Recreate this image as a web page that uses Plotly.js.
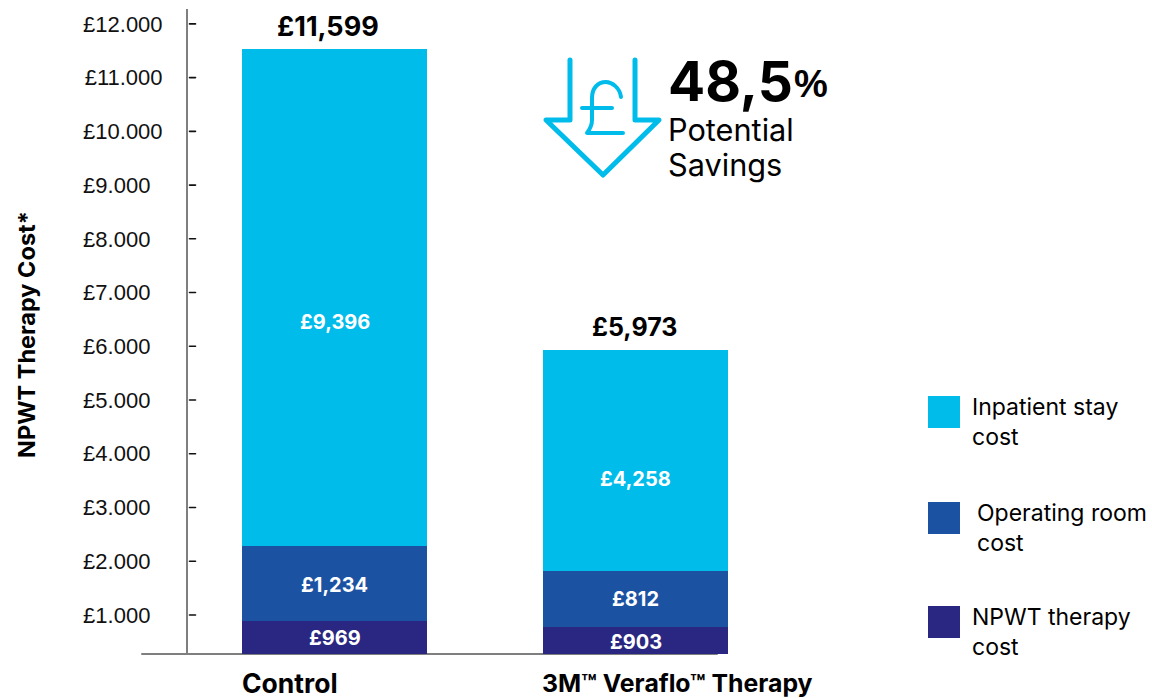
<!DOCTYPE html>
<html><head><meta charset="utf-8">
<script src="https://cdn.plot.ly/plotly-3.0.1.min.js"></script>
<style>
html,body{margin:0;padding:0;background:#fff}
.shapelayer path{stroke-linecap:round;stroke-linejoin:round}
</style></head><body><div id="chart" style="width:1152px;height:698px"></div>
<script>
// Data ------------------------------------------------------------------
const categories = ['Control', '3M\u2122 Veraflo\u2122 Therapy'];
const seriesNames = ['NPWT therapy<br>cost', 'Operating room<br>cost', 'Inpatient stay<br>cost'];
// Segment heights as drawn in the picture, read against its y axis.
// The source graphic is not strictly to scale, so these differ a little from its printed labels.
const npwtHeights = [887, 776];
const operatingHeights = [1396, 1042];
const inpatientHeights = [9250, 4113];
// Labels printed on the picture
const npwtLabels = ['£969', '£903'];
const operatingLabels = ['£1,234', '£812'];
const inpatientLabels = ['£9,396', '£4,258'];
const totalLabels = ['£11,599', '£5,973'];
const yTickVals = [1000,2000,3000,4000,5000,6000,7000,8000,9000,10000,11000,12000];
const yTickText = ['£1.000','£2.000','£3.000','£4.000','£5.000','£6.000','£7.000','£8.000','£9.000','£10.000','£11.000','£12.000'];
// Style ------------------------------------------------------------------
const W = 1152, H = 698;
const colors = ['#2A2782', '#1B52A2', '#00BCEB'];
const HEAD = 'Inter, "Noto Sans", sans-serif';
const TICK = '"Liberation Sans", Arial, sans-serif';
const px = x => x / W, py = y => 1 - y / H;
const yRange = [273.6, 12277];
const xRange = [(142 - 334.5) / 301, (728 - 334.5) / 301];

const xs = [0, 1];
function barTrace(name, vals, color) {
  return {type: 'bar', name, x: xs, y: vals, marker: {color, line: {width: 0}}, hoverinfo: 'skip'};
}
const traces = [
  barTrace('NPWT therapy cost', npwtHeights, colors[0]),
  barTrace('Operating room cost', operatingHeights, colors[1]),
  barTrace('Inpatient stay cost', inpatientHeights, colors[2])
];

const annotations = [];
function note(text, x, y, xref, yref, size, opts) {
  annotations.push(Object.assign({text, x, y, xref, yref, showarrow: false,
    font: {family: HEAD, size, color: '#000'}, xanchor: 'center', yanchor: 'middle', borderpad: 0}, opts || {}));
}
const inpatientShift = [-24, -18], operatingShift = [-1, 0], npwtShift = [0, -1];
const totalSize = [27, 25], totalDx = [-7, -1.5], totalShift = [5, 7];
xs.forEach((x, i) => {
  const t1 = npwtHeights[i], t2 = t1 + operatingHeights[i], t3 = t2 + inpatientHeights[i];
  const white = {font: {family: HEAD, size: 20, color: '#fff'}};
  note('<b>' + npwtLabels[i] + '</b>', x, (yRange[0] + t1) / 2, 'x', 'y', 20, Object.assign({yshift: npwtShift[i]}, white));
  note('<b>' + operatingLabels[i] + '</b>', x, (t1 + t2) / 2, 'x', 'y', 20, Object.assign({yshift: operatingShift[i]}, white));
  note('<b>' + inpatientLabels[i] + '</b>', x, (t2 + t3) / 2, 'x', 'y', 20, Object.assign({yshift: inpatientShift[i]}, white));
  note('<b>' + totalLabels[i] + '</b>', x + totalDx[i] / 301, t3, 'x', 'y', totalSize[i], {yanchor: 'bottom', yshift: totalShift[i]});
});
// Category labels sit off-centre from their bars in the picture
note('<b>' + categories[0] + '</b>', px(290), py(683), 'paper', 'paper', 26.5);
note('<b>' + categories[1] + '</b>', px(677), py(683), 'paper', 'paper', 24.8);

// Axis title
note('<b>NPWT Therapy Cost*</b>', px(26), py(335), 'paper', 'paper', 23.5, {textangle: -90});

// Savings call-out
note('<b>48,5</b>', px(667), py(81), 'paper', 'paper', 55, {xanchor: 'left'});
note('<b>%</b>', px(793), py(84), 'paper', 'paper', 38, {xanchor: 'left',
  font: {family: '"Liberation Sans Narrow", "Liberation Sans", sans-serif', size: 38, color: '#000'}});
note('Potential', px(667), py(130), 'paper', 'paper', 30.7, {xanchor: 'left'});
note('Savings', px(667), py(165), 'paper', 'paper', 30.7, {xanchor: 'left'});

// Legend
const legendRows = [
  {name: seriesNames[2], color: colors[2], top: 396, tx: 971},
  {name: seriesNames[1], color: colors[1], top: 502, tx: 976},
  {name: seriesNames[0], color: colors[0], top: 606, tx: 971}
];
const shapes = [];
legendRows.forEach(r => {
  shapes.push({type: 'rect', xref: 'paper', yref: 'paper', x0: px(928), x1: px(960),
    y0: py(r.top), y1: py(r.top + 32), fillcolor: r.color, line: {width: 0}});
  note(r.name, px(r.tx), py(r.top + 26), 'paper', 'paper', 23, {xanchor: 'left', align: 'left'});
});
// Short dash markers beside the axis
yTickVals.forEach(v => shapes.push({type: 'line', xref: 'paper', yref: 'y', x0: px(189.5), x1: px(195.5),
  y0: v, y1: v, line: {color: '#111', width: 1.6}}));
// Baseline stops short of the right edge of the second bar
shapes.push({type: 'line', xref: 'paper', yref: 'paper', x0: px(142), x1: px(717), y0: py(654), y1: py(654),
  layer: 'below', line: {color: '#7f7f7f', width: 2}});

// Arrow icon
const P = (x, y) => px(x).toFixed(5) + ',' + py(y).toFixed(5);
const iconLine = {color: colors[2], width: 5};
shapes.push({type: 'path', xref: 'paper', yref: 'paper', line: iconLine,
  path: 'M' + P(570, 60) + 'L' + P(570, 120) + 'L' + P(546, 120) + 'L' + P(603, 175) + 'L' + P(659, 120) + 'L' + P(635, 120) + 'L' + P(635, 60)});
shapes.push({type: 'path', xref: 'paper', yref: 'paper', line: {color: colors[2], width: 4},
  path: 'M' + P(621, 97) + 'C' + P(620, 88) + ' ' + P(612, 82) + ' ' + P(606, 82) + 'C' + P(597, 82) + ' ' + P(592, 89) + ' ' + P(592, 98) +
        'L' + P(592, 120) + 'C' + P(592, 126) + ' ' + P(590, 129) + ' ' + P(587, 133) + 'L' + P(623, 133)});
shapes.push({type: 'path', xref: 'paper', yref: 'paper', line: {color: colors[2], width: 4},
  path: 'M' + P(582, 108) + 'L' + P(612, 108)});

// Tick labels are left-aligned in the picture: pad the short ones to the width of the long ones
const paddedTicks = yTickText.map(t => t.length < 7 ? t + '\u00a0\u00a0' : t);

const layout = {
  width: W, height: H, margin: {l: 0, r: 0, t: 0, b: 0},
  paper_bgcolor: '#fff', plot_bgcolor: 'rgba(0,0,0,0)',
  barmode: 'stack', bargap: 116 / 301, showlegend: false, hovermode: false,
  font: {family: HEAD},
  xaxis: {domain: [px(142), px(728)], range: xRange, type: 'linear', showticklabels: false, ticks: '',
    showgrid: false, zeroline: false, showline: false},
  yaxis: {domain: [py(654), py(9)], range: yRange, anchor: 'free', position: px(187), side: 'left',
    tickvals: yTickVals, ticktext: paddedTicks, ticks: '', ticklabelstandoff: 19,
    tickfont: {family: TICK, size: 22, color: '#111'},
    showgrid: false, zeroline: false, showline: true, linecolor: '#7f7f7f', linewidth: 2},
  annotations, shapes
};
Plotly.newPlot('chart', traces, layout, {displayModeBar: false, staticPlot: true});
</script></body></html>
